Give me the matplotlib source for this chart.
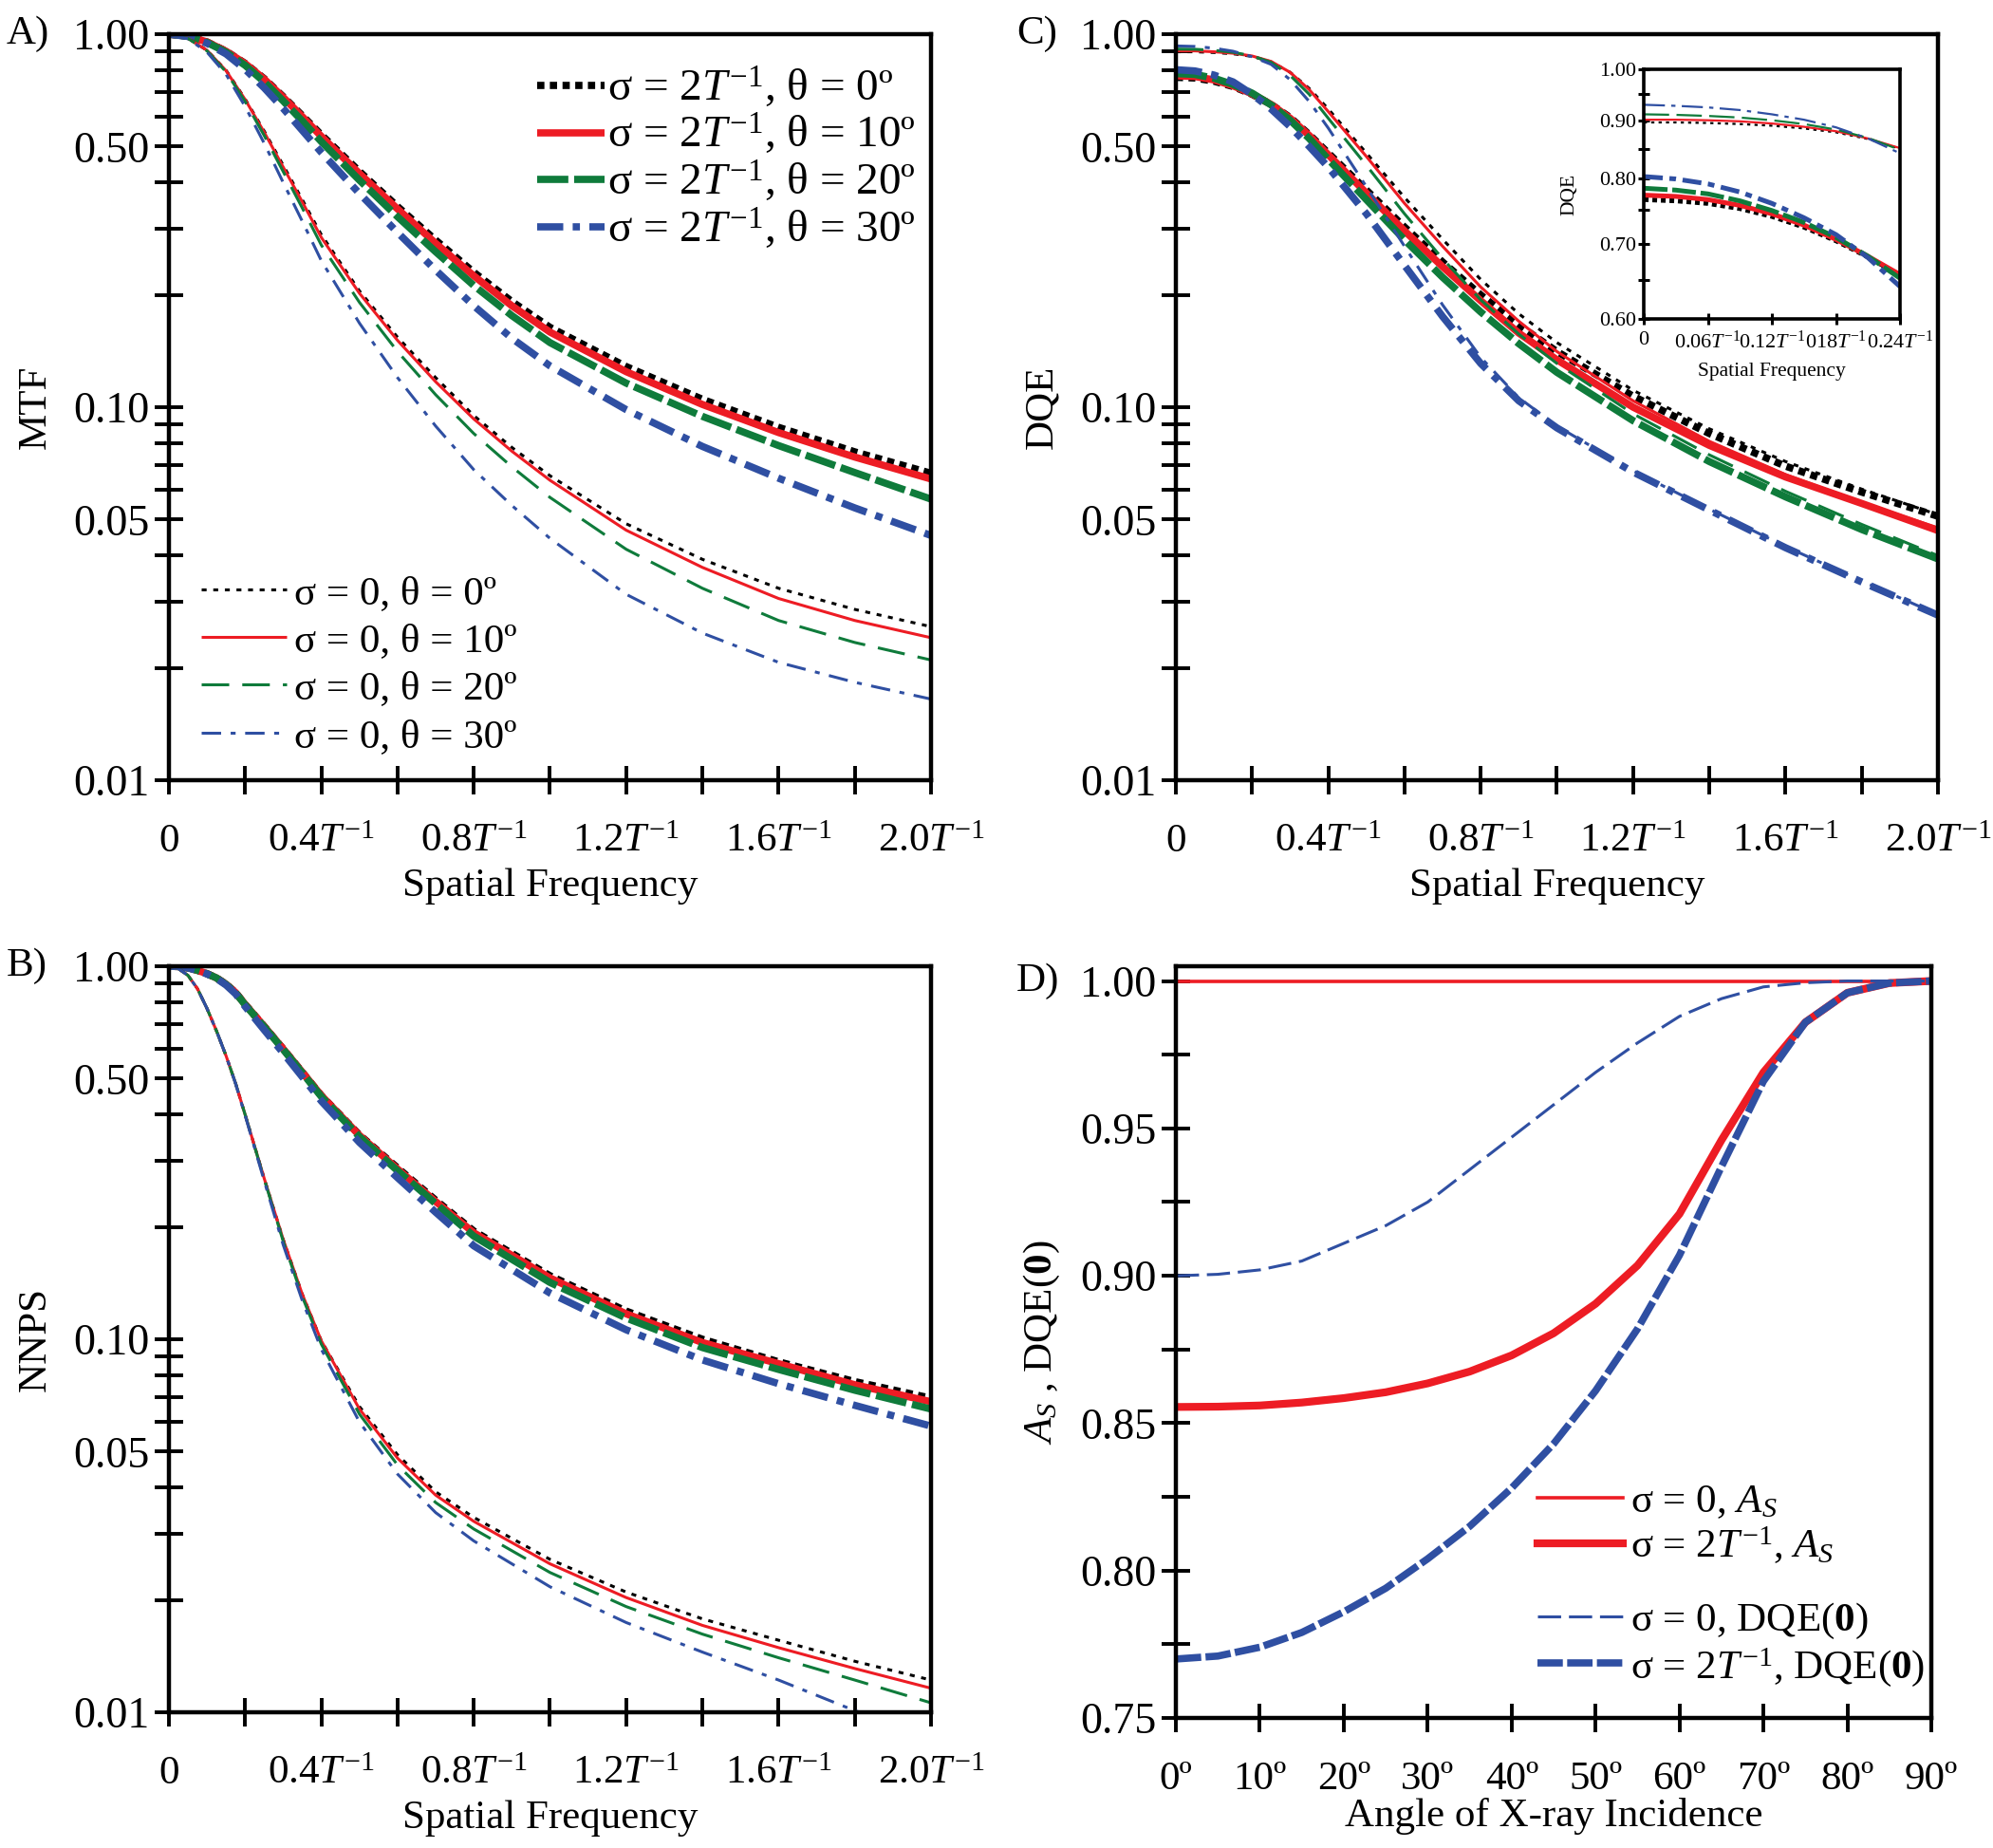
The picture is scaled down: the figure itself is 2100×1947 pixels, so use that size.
import matplotlib
matplotlib.use("Agg")
import matplotlib.pyplot as plt
from matplotlib.ticker import FixedLocator, FixedFormatter, NullFormatter

plt.rcParams['font.family'] = ['Liberation Serif', 'DejaVu Serif']
plt.rcParams['mathtext.fontset'] = 'custom'
plt.rcParams['mathtext.rm'] = 'Liberation Serif'
plt.rcParams['mathtext.it'] = 'Liberation Serif:italic'
plt.rcParams['mathtext.bf'] = 'Liberation Serif:bold'

# ---------------- data ----------------
freq = [0, 0.05, 0.1, 0.15, 0.2, 0.25, 0.3, 0.35, 0.4, 0.5, 0.6, 0.7, 0.8, 0.9, 1.0, 1.2, 1.4, 1.6, 1.8, 2.0]
freq_b = [0, 0.025, 0.05, 0.075, 0.1, 0.125, 0.15, 0.175, 0.2, 0.25, 0.3, 0.35, 0.4, 0.5, 0.6, 0.7, 0.8,
          1.0, 1.2, 1.4, 1.6, 1.8, 2.0]
freq_inset = [0, 0.03, 0.06, 0.09, 0.12, 0.15, 0.18, 0.21, 0.24]
angles = [0, 5, 10, 15, 20, 25, 30, 35, 40, 45, 50, 55, 60, 65, 70, 75, 80, 85, 90]
thetas = [0, 10, 20, 30]

# A) MTF
mtf_s2_t0 = [1.0, 0.988, 0.953, 0.90, 0.835, 0.76, 0.68, 0.605, 0.537, 0.4285, 0.345, 0.2805, 0.230, 0.192,
             0.1637, 0.1285, 0.105, 0.0883, 0.0759, 0.0665]
mtf_s2_t10 = [1.0, 0.988, 0.953, 0.90, 0.834, 0.758, 0.677, 0.601, 0.532, 0.423, 0.34, 0.275, 0.225, 0.187,
              0.159, 0.1245, 0.1017, 0.0855, 0.0735, 0.0642]
mtf_s2_t20 = [1.0, 0.987, 0.95, 0.895, 0.825, 0.745, 0.662, 0.585, 0.515, 0.406, 0.324, 0.261, 0.212, 0.176,
              0.149, 0.116, 0.0945, 0.0789, 0.0668, 0.0567]
mtf_s2_t30 = [1.0, 0.986, 0.945, 0.885, 0.805, 0.718, 0.632, 0.552, 0.482, 0.374, 0.294, 0.233, 0.187, 0.153,
              0.129, 0.0985, 0.0785, 0.0645, 0.0537, 0.0453]
mtf_s0_t0 = [1.0, 0.975, 0.905, 0.80, 0.67, 0.55, 0.445, 0.36, 0.29, 0.205, 0.154, 0.12, 0.095, 0.078,
             0.0655, 0.0487, 0.0391, 0.0327, 0.0287, 0.0258]
mtf_s0_t10 = [1.0, 0.975, 0.905, 0.798, 0.668, 0.546, 0.44, 0.355, 0.285, 0.202, 0.151, 0.117, 0.093, 0.0762,
              0.0637, 0.0468, 0.0372, 0.0307, 0.0268, 0.0241]
mtf_s0_t20 = [1.0, 0.974, 0.902, 0.792, 0.66, 0.535, 0.428, 0.342, 0.272, 0.191, 0.141, 0.108, 0.085, 0.0692,
              0.0573, 0.0416, 0.0327, 0.0268, 0.0234, 0.021]
mtf_s0_t30 = [1.0, 0.972, 0.895, 0.78, 0.64, 0.51, 0.40, 0.315, 0.247, 0.168, 0.12, 0.089, 0.068, 0.0545,
              0.0445, 0.0315, 0.0248, 0.0207, 0.0183, 0.0165]

# B) NNPS
nnps_s2_t0 = [1.0, 0.998, 0.99, 0.975, 0.955, 0.93, 0.895, 0.85, 0.79, 0.69, 0.60, 0.52, 0.45, 0.353, 0.288,
              0.236, 0.195, 0.148, 0.119, 0.1, 0.087, 0.077, 0.0695]
nnps_s2_t10 = [1.0, 0.998, 0.99, 0.975, 0.955, 0.93, 0.895, 0.85, 0.79, 0.69, 0.60, 0.52, 0.45, 0.352, 0.286,
               0.234, 0.193, 0.146, 0.117, 0.098, 0.086, 0.0755, 0.068]
nnps_s2_t20 = [1.0, 0.998, 0.99, 0.975, 0.955, 0.93, 0.894, 0.849, 0.788, 0.688, 0.598, 0.518, 0.447, 0.349,
               0.283, 0.231, 0.189, 0.142, 0.114, 0.095, 0.083, 0.073, 0.065]
nnps_s2_t30 = [1.0, 0.998, 0.99, 0.974, 0.953, 0.927, 0.89, 0.843, 0.78, 0.675, 0.585, 0.505, 0.435, 0.337,
               0.271, 0.219, 0.178, 0.133, 0.106, 0.088, 0.076, 0.0665, 0.0585]
nnps_s0_t0 = [1.0, 0.985, 0.945, 0.87, 0.77, 0.67, 0.575, 0.485, 0.40, 0.27, 0.185, 0.132, 0.099, 0.066, 0.049,
              0.039, 0.0333, 0.0257, 0.021, 0.0178, 0.0156, 0.0137, 0.0122]
nnps_s0_t10 = [1.0, 0.985, 0.945, 0.87, 0.77, 0.67, 0.575, 0.485, 0.40, 0.27, 0.185, 0.132, 0.099, 0.065, 0.048,
               0.0382, 0.0325, 0.025, 0.0203, 0.0171, 0.0149, 0.0131, 0.0116]
nnps_s0_t20 = [1.0, 0.985, 0.945, 0.87, 0.77, 0.67, 0.575, 0.485, 0.40, 0.269, 0.183, 0.13, 0.097, 0.063, 0.046,
               0.0365, 0.031, 0.0237, 0.0192, 0.0162, 0.014, 0.0122, 0.0106]
nnps_s0_t30 = [1.0, 0.985, 0.945, 0.87, 0.77, 0.67, 0.575, 0.484, 0.398, 0.266, 0.179, 0.127, 0.094, 0.06,
               0.0435, 0.0343, 0.0288, 0.0217, 0.0174, 0.0145, 0.0122, 0.0101, 0.0087]

# C) DQE
dqe_s0_t0 = [0.897, 0.897, 0.893, 0.886, 0.872, 0.843, 0.79, 0.715, 0.63, 0.48, 0.365, 0.282, 0.22, 0.178,
             0.149, 0.111, 0.0875, 0.0715, 0.0603, 0.0515]
dqe_s0_t10 = [0.902, 0.902, 0.897, 0.889, 0.874, 0.845, 0.79, 0.71, 0.62, 0.47, 0.352, 0.27, 0.21, 0.17,
              0.141, 0.104, 0.081, 0.066, 0.0555, 0.0475]
dqe_s0_t20 = [0.912, 0.911, 0.905, 0.894, 0.875, 0.84, 0.775, 0.69, 0.595, 0.445, 0.33, 0.25, 0.194, 0.157,
              0.131, 0.096, 0.0745, 0.0595, 0.0485, 0.040]
dqe_s0_t30 = [0.93, 0.927, 0.917, 0.90, 0.87, 0.83, 0.755, 0.66, 0.56, 0.39, 0.27, 0.188, 0.136, 0.106,
              0.089, 0.0675, 0.0533, 0.0423, 0.0342, 0.0278]
dqe_s2_t0 = [0.766, 0.763, 0.748, 0.724, 0.69, 0.648, 0.598, 0.538, 0.48, 0.382, 0.304, 0.245, 0.2, 0.166,
             0.141, 0.107, 0.085, 0.0695, 0.0592, 0.051]
dqe_s2_t10 = [0.773, 0.77, 0.754, 0.727, 0.692, 0.648, 0.595, 0.535, 0.475, 0.375, 0.297, 0.238, 0.193, 0.158,
              0.134, 0.100, 0.079, 0.065, 0.0552, 0.0467]
dqe_s2_t20 = [0.784, 0.78, 0.762, 0.733, 0.695, 0.646, 0.588, 0.525, 0.462, 0.36, 0.281, 0.223, 0.18, 0.148,
              0.124, 0.092, 0.0715, 0.0575, 0.047, 0.0392]
dqe_s2_t30 = [0.803, 0.797, 0.777, 0.745, 0.69, 0.63, 0.565, 0.50, 0.44, 0.33, 0.24, 0.175, 0.131, 0.104,
              0.088, 0.067, 0.053, 0.042, 0.034, 0.0277]

# C) inset, low frequencies
ins_s0_t0 = [0.897, 0.897, 0.896, 0.894, 0.891, 0.886, 0.879, 0.867, 0.850]
ins_s0_t10 = [0.902, 0.902, 0.901, 0.899, 0.895, 0.889, 0.881, 0.868, 0.851]
ins_s0_t20 = [0.912, 0.911, 0.909, 0.906, 0.901, 0.894, 0.884, 0.869, 0.848]
ins_s0_t30 = [0.930, 0.928, 0.925, 0.920, 0.912, 0.902, 0.888, 0.868, 0.842]
ins_s2_t0 = [0.766, 0.764, 0.760, 0.752, 0.740, 0.724, 0.704, 0.681, 0.656]
ins_s2_t10 = [0.773, 0.771, 0.766, 0.757, 0.744, 0.727, 0.706, 0.682, 0.657]
ins_s2_t20 = [0.784, 0.781, 0.775, 0.764, 0.749, 0.731, 0.709, 0.682, 0.652]
ins_s2_t30 = [0.803, 0.799, 0.791, 0.778, 0.760, 0.738, 0.713, 0.680, 0.641]

# D) vs angle of incidence
as_s0 = [1.0] * 19
as_s2 = [0.8555, 0.8556, 0.856, 0.857, 0.8585, 0.8605, 0.8635, 0.8675, 0.873, 0.8805,
         0.8905, 0.9035, 0.921, 0.946, 0.969, 0.986, 0.996, 0.9993, 1.0]
dqe0_s0 = [0.900, 0.9005, 0.902, 0.905, 0.911, 0.917, 0.925, 0.936, 0.947, 0.958,
           0.969, 0.979, 0.988, 0.994, 0.998, 0.9994, 1.0, 1.0, 1.0]
dqe0_s2 = [0.770, 0.771, 0.774, 0.779, 0.786, 0.794, 0.804, 0.815, 0.828, 0.843,
           0.861, 0.882, 0.907, 0.937, 0.966, 0.986, 0.996, 0.9993, 1.0]

freq_ticks = [0, 0.4, 0.8, 1.2, 1.6, 2.0]
freq_ticklabels = ['0'] + [r'%s$T^{-1}$' % s for s in ['0.4', '0.8', '1.2', '1.6', '2.0']]
inset_ticks = [0, 0.06, 0.12, 0.18, 0.24]
inset_ticklabels = ['0', r'0.06$T^{-1}$', r'0.12$T^{-1}$', r'018$T^{-1}$', r'0.24$T^{-1}$']
angle_ticks = [0, 10, 20, 30, 40, 50, 60, 70, 80, 90]

# ---------------- styles ----------------
RED = '#ED1C24'
GREEN = '#0F7B3B'
BLUE = '#2F4FA2'
BLACK = '#000000'
COLORS = [BLACK, RED, GREEN, BLUE]
THICK, THIN = 5.5, 2.2
thick_ls = [(0, (1.0, 0.75)), '-', (0, (4.3, 0.8)), (0, (3.6, 1.3, 1.0, 1.3))]
thin_ls = [(0, (1.7, 2.3)), '-', (0, (9.5, 4.5)), (0, (6.7, 3.3, 1.7, 3.3))]
FS = 31
YFS = 33
XPAD = 22

fig = plt.figure(figsize=(21, 19.47), dpi=100)
axA = fig.add_axes([0.08476, 0.57781, 0.38238, 0.40370])
axC = fig.add_axes([0.59, 0.57781, 0.38238, 0.40370])
axB = fig.add_axes([0.08476, 0.07345, 0.38238, 0.40370])
axD = fig.add_axes([0.59, 0.07036, 0.37905, 0.40678])


def frame(ax, lw=3.2):
    for s in ax.spines.values():
        s.set_linewidth(lw)
        s.set_color('black')


def log_freq_axis(ax):
    ax.set_yscale('log')
    ax.set_ylim(0.01, 1.0)
    ax.set_xlim(0, 2.0)
    ax.yaxis.set_major_locator(FixedLocator([0.01, 0.05, 0.1, 0.5, 1.0]))
    ax.yaxis.set_major_formatter(FixedFormatter(['0.01', '0.05', '0.10', '0.50', '1.00']))
    ax.yaxis.set_minor_locator(FixedLocator([0.02, 0.03, 0.04, 0.06, 0.07, 0.08, 0.09,
                                             0.2, 0.3, 0.4, 0.6, 0.7, 0.8, 0.9]))
    ax.yaxis.set_minor_formatter(NullFormatter())
    ax.xaxis.set_major_locator(FixedLocator(freq_ticks))
    ax.xaxis.set_major_formatter(FixedFormatter(freq_ticklabels))
    ax.xaxis.set_minor_locator(FixedLocator([0.2, 0.6, 1.0, 1.4, 1.8]))
    ax.tick_params(which='both', direction='inout', length=22, width=2.8)
    ax.tick_params(axis='y', which='both', pad=4, labelsize=YFS)
    ax.tick_params(axis='x', which='both', pad=XPAD, labelsize=FS)
    frame(ax)
    ax.text(0.5, -0.142, 'Spatial Frequency', transform=ax.transAxes,
            ha='center', va='center', fontsize=FS)


def draw_group(ax, x, series, styles, lw, labels=None):
    lines = []
    for i, y in enumerate(series):
        ln, = ax.plot(x, y, color=COLORS[i], ls=styles[i], lw=lw,
                      dash_capstyle='butt', solid_capstyle='butt',
                      label=labels[i] if labels else None)
        lines.append(ln)
    return lines


# ---------- A) MTF ----------
lab_s2 = [r'σ = 2$T^{-1}$, θ = %dº' % t for t in thetas]
lab_s0 = ['σ = 0, θ = %dº' % t for t in thetas]
up = draw_group(axA, freq, [mtf_s2_t0, mtf_s2_t10, mtf_s2_t20, mtf_s2_t30], thick_ls, THICK, lab_s2)
lo = draw_group(axA, freq, [mtf_s0_t0, mtf_s0_t10, mtf_s0_t20, mtf_s0_t30], thin_ls, THIN, lab_s0)
log_freq_axis(axA)
axA.text(-0.175, 0.5, 'MTF', transform=axA.transAxes, rotation=90,
         ha='center', va='center', fontsize=FS)
legA1 = axA.legend(handles=up, loc='upper left', bbox_to_anchor=(0.483, 0.959),
                   frameon=False, fontsize=34, handlelength=1.5, handletextpad=0.08,
                   labelspacing=0.04, borderpad=0, borderaxespad=0)
axA.add_artist(legA1)
axA.legend(handles=lo, loc='upper left', bbox_to_anchor=(0.042, 0.2755),
           frameon=False, fontsize=FS, handlelength=2.1, handletextpad=0.18,
           labelspacing=0.26, borderpad=0, borderaxespad=0)

# ---------- B) NNPS ----------
draw_group(axB, freq_b, [nnps_s2_t0, nnps_s2_t10, nnps_s2_t20, nnps_s2_t30], thick_ls, THICK)
draw_group(axB, freq_b, [nnps_s0_t0, nnps_s0_t10, nnps_s0_t20, nnps_s0_t30], thin_ls, THIN)
log_freq_axis(axB)
axB.text(-0.175, 0.5, 'NNPS', transform=axB.transAxes, rotation=90,
         ha='center', va='center', fontsize=FS)

# ---------- C) DQE ----------
draw_group(axC, freq, [dqe_s2_t0, dqe_s2_t10, dqe_s2_t20, dqe_s2_t30], thick_ls, THICK)
draw_group(axC, freq, [dqe_s0_t0, dqe_s0_t10, dqe_s0_t20, dqe_s0_t30], thin_ls, THIN)
log_freq_axis(axC)
axC.text(-0.176, 0.5, 'DQE', transform=axC.transAxes, rotation=90,
         ha='center', va='center', fontsize=FS)

# inset
axI = fig.add_axes([0.8248, 0.8274, 0.1286, 0.1351])
ins_thick = [(0, (1.0, 0.8)), '-', (0, (5, 1)), (0, (4, 1.4, 1.4, 1.4))]
ins_thin = [(0, (1.5, 2)), '-', (0, (12, 3.5)), (0, (10, 3, 2, 3))]
draw_group(axI, freq_inset, [ins_s2_t0, ins_s2_t10, ins_s2_t20, ins_s2_t30], ins_thick, 3.6)
draw_group(axI, freq_inset, [ins_s0_t0, ins_s0_t10, ins_s0_t20, ins_s0_t30], ins_thin, 1.6)
axI.set_yscale('log')
axI.set_ylim(0.6, 1.0)
axI.set_xlim(0, 0.24)
axI.yaxis.set_major_locator(FixedLocator([0.6, 0.7, 0.8, 0.9, 1.0]))
axI.yaxis.set_major_formatter(FixedFormatter(['0.60', '0.70', '0.80', '0.90', '1.00']))
axI.yaxis.set_minor_locator(FixedLocator([0.65, 0.75, 0.85, 0.95]))
axI.yaxis.set_minor_formatter(NullFormatter())
axI.xaxis.set_major_locator(FixedLocator(inset_ticks))
axI.xaxis.set_major_formatter(FixedFormatter(inset_ticklabels))
axI.tick_params(which='both', direction='inout', length=8, width=2.2, labelsize=16, pad=2)
axI.tick_params(axis='x', pad=5)
frame(axI, 2.6)
axI.text(-0.29, 0.5, 'DQE', transform=axI.transAxes, rotation=90,
         ha='center', va='center', fontsize=15.5)
axI.text(0.5, -0.21, 'Spatial Frequency', transform=axI.transAxes,
         ha='center', va='center', fontsize=15.5)

# ---------- D) vs angle ----------
l1, = axD.plot(angles, as_s0, color=RED, lw=THIN + 0.4, label=r'σ = 0, $A_S$')
l2, = axD.plot(angles, as_s2, color=RED, lw=THICK + 0.4, label=r'σ = 2$T^{-1}$, $A_S$')
l3, = axD.plot(angles, dqe0_s0, color=BLUE, lw=THIN, ls=(0, (8, 2.7)),
               label=r'σ = 0, DQE($\mathbf{0}$)')
l4, = axD.plot(angles, dqe0_s2, color=BLUE, lw=THICK, ls=(0, (3.5, 0.6)),
               label=r'σ = 2$T^{-1}$, DQE($\mathbf{0}$)')
axD.set_xlim(0, 90)
axD.set_ylim(0.75, 1.005)
axD.xaxis.set_major_locator(FixedLocator(angle_ticks))
axD.xaxis.set_major_formatter(FixedFormatter(['%dº' % a for a in angle_ticks]))
axD.yaxis.set_major_locator(FixedLocator([0.75, 0.80, 0.85, 0.90, 0.95, 1.00]))
axD.yaxis.set_major_formatter(FixedFormatter(['0.75', '0.80', '0.85', '0.90', '0.95', '1.00']))
axD.yaxis.set_minor_locator(FixedLocator([0.775, 0.825, 0.875, 0.925, 0.975]))
axD.yaxis.set_minor_formatter(NullFormatter())
axD.tick_params(which='both', direction='inout', length=22, width=2.8)
axD.tick_params(axis='y', which='both', pad=4, labelsize=YFS)
axD.tick_params(axis='x', which='both', pad=XPAD, labelsize=FS)
frame(axD)
axD.text(0.5, -0.131, 'Angle of X-ray Incidence', transform=axD.transAxes,
         ha='center', va='center', fontsize=FS)
axD.text(-0.177, 0.5, r'$A_S$ , DQE($\mathbf{0}$)', transform=axD.transAxes, rotation=90,
         ha='center', va='center', fontsize=FS)
legD1 = axD.legend(handles=[l1, l2], loc='upper left', bbox_to_anchor=(0.4786, 0.3125),
                   frameon=False, fontsize=FS, handlelength=2.1, handletextpad=0.18,
                   labelspacing=0.1, borderpad=0, borderaxespad=0)
axD.add_artist(legD1)
axD.legend(handles=[l3, l4], loc='upper left', bbox_to_anchor=(0.4786, 0.155),
           frameon=False, fontsize=FS, handlelength=2.1, handletextpad=0.18,
           labelspacing=0.1, borderpad=0, borderaxespad=0)

# panel letters
fig.text(0.003, 0.9815, 'A)', fontsize=FS, ha='left', va='center')
fig.text(0.003, 0.4771, 'B)', fontsize=FS, ha='left', va='center')
fig.text(0.51, 0.9815, 'C)', fontsize=FS, ha='left', va='center')
fig.text(0.51, 0.469, 'D)', fontsize=FS, ha='left', va='center')

fig.savefig('out.png', dpi=100)
